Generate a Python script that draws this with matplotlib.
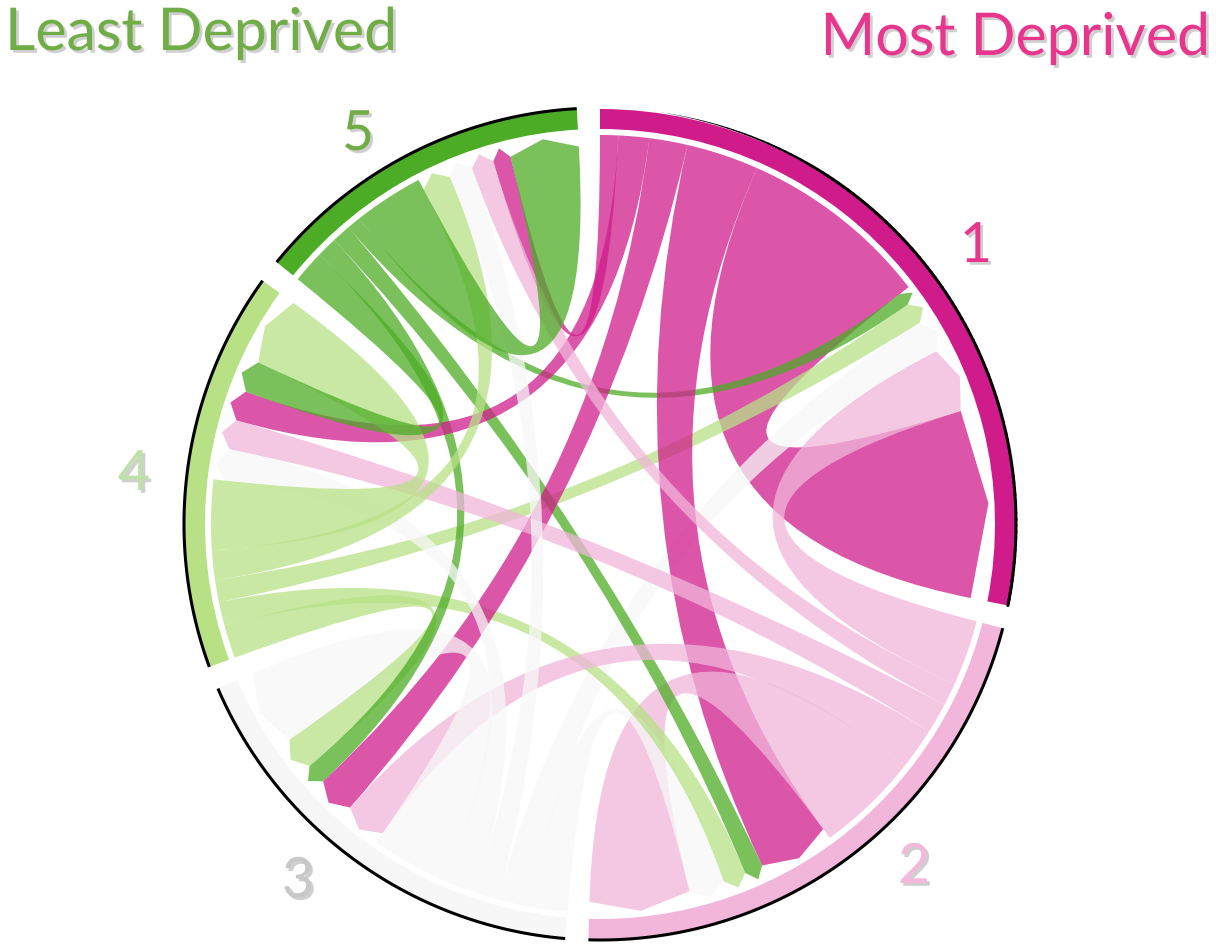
import numpy as np
import matplotlib.pyplot as plt
from matplotlib.path import Path
from matplotlib.patches import PathPatch, Wedge
from matplotlib.collections import LineCollection
import matplotlib.patheffects as pe

plt.rcParams['font.family'] = ['Lato', 'DejaVu Sans']

# groups (quintiles), drawn clockwise from the top
groups = ['1', '2', '3', '4', '5']
ring_colors = ['#d01c8b', '#f1b6da', '#f7f7f7', '#b8e186', '#4dac26']
label_colors = ['#e8368f', '#f4b8dc', '#c8c8c8', '#bfe0a8', '#70ad47']

# flows: flow_from_k[j] = flow from group k to group j+1
flow_from_1 = [28.7, 10.8, 5.7, 4.6, 2.7]
flow_from_2 = [9.8, 15.3, 6.3, 4.5, 3.4]
flow_from_3 = [5.0, 5.4, 11.5, 4.8, 3.6]
flow_from_4 = [3.3, 3.5, 5.0, 10.5, 4.4]
flow_from_5 = [2.0, 2.8, 3.1, 4.8, 10.5]
flows = np.array([flow_from_1, flow_from_2, flow_from_3, flow_from_4, flow_from_5])

# geometry (pixels)
W, H = 1216, 946
cx, cy = 600, H - 524
r_out, r_in = 415, 395
r_src, r_tgt, r_tip = 389, 378, 389
gap = 3.2
start = 90.0

n = len(groups)
unit = (360 - n * gap) / (2 * flows.sum())

src_pos, tgt_pos, spans = {}, {}, []
a = start
for i in range(n):
    s0 = a
    order = [(i - k) % n for k in range(1, n)] + [i]
    for j in order:
        w = flows[i, j] * unit
        src_pos[(i, j)] = (a, a - w)
        a -= w
    for j in order:
        w = flows[j, i] * unit
        tgt_pos[(j, i)] = (a, a - w)
        a -= w
    spans.append((s0, a))
    a -= gap


def pol(ang, r):
    t = np.radians(ang)
    return (cx + r * np.cos(t), cy + r * np.sin(t))


def link_path(s, t):
    s0, s1 = s
    t0, t1 = t
    verts, codes = [], []
    arc = np.linspace(s0, s1, 40)
    for k, ang in enumerate(arc):
        verts.append(pol(ang, r_src))
        codes.append(Path.MOVETO if k == 0 else Path.LINETO)
    verts += [(cx, cy), pol(t0, r_tgt)]
    codes += [Path.CURVE3, Path.CURVE3]
    verts += [pol((t0 + t1) / 2, r_tip), pol(t1, r_tgt)]
    codes += [Path.LINETO, Path.LINETO]
    verts += [(cx, cy), pol(s0, r_src)]
    codes += [Path.CURVE3, Path.CURVE3]
    verts.append(pol(s0, r_src))
    codes.append(Path.CLOSEPOLY)
    return Path(verts, codes)


fig = plt.figure(figsize=(W / 100, H / 100), dpi=100)
ax = fig.add_axes([0, 0, 1, 1])
ax.set_xlim(0, W)
ax.set_ylim(0, H)
ax.set_aspect('equal')
ax.axis('off')

# links, column by column
for j in range(n):
    for i in range(n):
        if flows[i, j] <= 0:
            continue
        p = link_path(src_pos[(i, j)], tgt_pos[(i, j)])
        ax.add_patch(PathPatch(p, facecolor=ring_colors[i], edgecolor='none',
                               alpha=0.75, zorder=2))

# outer ring with a dark rim (fading in on the top of group 1)
for i in range(n):
    a0, a1 = spans[i]
    ax.add_patch(Wedge((cx, cy), r_out, a1, a0, width=r_out - r_in,
                       facecolor=ring_colors[i], edgecolor='none', zorder=3))
    ang = np.linspace(a0, a1, 120)
    xs = cx + (r_out + 1) * np.cos(np.radians(ang))
    ys = cy + (r_out + 1) * np.sin(np.radians(ang))
    if i == 0:
        pts = np.column_stack([xs, ys]).reshape(-1, 1, 2)
        segs = np.concatenate([pts[:-1], pts[1:]], axis=1)
        mid = (ang[:-1] + ang[1:]) / 2
        lws = np.clip((82 - mid) / 25, 0, 1) * 2.2
        ax.add_collection(LineCollection(segs, colors='black', linewidths=lws,
                                         capstyle='round', zorder=4))
    else:
        ax.plot(xs, ys, color='black', lw=2.2, solid_capstyle='butt', zorder=4)

shadow = [pe.withSimplePatchShadow(offset=(2, -2), shadow_rgbFace='#777777', alpha=0.35)]

# group numbers
label_x = [976, 914, 298, 134, 358]
label_y = [262, 883, 897, 490, 150]
for i in range(n):
    ax.text(label_x[i], H - label_y[i], groups[i], color=label_colors[i],
            fontsize=40, ha='center', va='baseline', path_effects=shadow, zorder=5)

ax.text(5, H - 50, 'Least Deprived', color='#70ad47', fontsize=42.5,
        ha='left', va='baseline', path_effects=shadow)
ax.text(1210, H - 55, 'Most Deprived', color='#e8368f', fontsize=42.5,
        ha='right', va='baseline', path_effects=shadow)

fig.savefig('out.png', dpi=100, facecolor='white')
